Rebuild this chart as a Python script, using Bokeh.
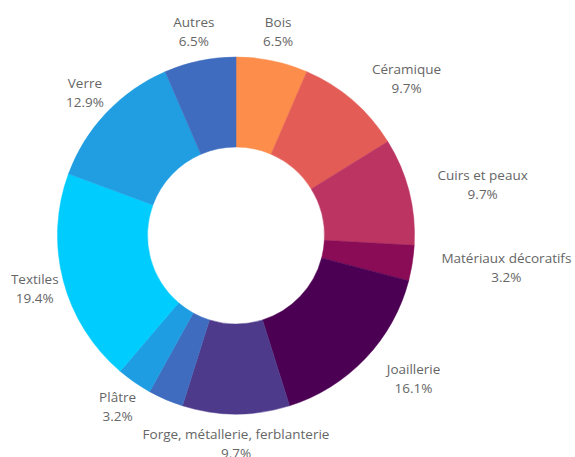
import math
from bokeh.plotting import figure
from bokeh.models import ColumnDataSource, Range1d
from bokeh.core.properties import value
from bokeh.embed import file_html
from bokeh.resources import INLINE

# Data (clockwise from 12 o'clock)
categories = ["Bois", "Céramique", "Cuirs et peaux", "Matériaux décoratifs",
              "Joaillerie", "Forge, métallerie, ferblanterie", "",
              "Plâtre", "Textiles", "Verre", "Autres"]
percents = [6.5, 9.7, 9.7, 3.2, 16.1, 9.7, 3.2, 3.2, 19.4, 12.9, 6.5]
colors = ["#fd8d4b", "#e35d56", "#bb3462", "#8a0c57", "#4c0053",
          "#4e3a8b", "#3f6cbf", "#1f9de2", "#00ccfe", "#219ee2", "#3f6cbf"]

W, H = 575, 457
cx, cy = 235.5, H - 235
r_in, r_out, r_lab = 88.5, 178.5, 208
FS = 13.5

# approximate Open Sans advance widths (em) to centre the second line
EM = {" ": .26, ".": .266, ",": .244, "%": .855, "C": .631, "M": .884,
      "J": .288, "a": .556, "â": .556, "b": .613, "c": .476, "d": .613,
      "e": .561, "é": .561, "f": .339, "g": .548, "h": .614, "i": .253,
      "j": .253, "k": .525, "l": .253, "m": .93, "n": .614, "o": .604,
      "p": .613, "q": .613, "r": .408, "s": .477, "t": .353, "u": .614,
      "v": .501, "w": .778, "x": .524, "y": .502, "z": .477}


def text_w(s):
    return sum(EM.get(ch, .572) for ch in s) * FS


total = sum(percents)
starts, ends, mids = [], [], []
cum = 0.0
for v in percents:
    f0 = cum / total
    cum += v
    f1 = cum / total
    starts.append(math.pi / 2 - 2 * math.pi * f0)
    ends.append(math.pi / 2 - 2 * math.pi * f1)
    mids.append((f0 + f1) / 2 * 360.0)

src = ColumnDataSource(dict(start=starts, end=ends, color=colors,
                            x=[cx] * len(percents), y=[cy] * len(percents)))

p = figure(width=W, height=H, output_backend="svg", toolbar_location=None,
           x_range=Range1d(0, W), y_range=Range1d(0, H), min_border=0)
p.axis.visible = False
p.grid.visible = False
p.outline_line_color = None
p.background_fill_color = "white"
p.border_fill_color = "white"

p.annular_wedge(x="x", y="y", inner_radius=r_in, outer_radius=r_out,
                start_angle="start", end_angle="end", direction="clock",
                color="color", line_color="color", line_width=0.5, source=src)

lab = dict(x=[], y1=[], y2=[], name=[], pct=[])
for name, v, m in zip(categories, percents, mids):
    if not name:
        continue
    a = math.radians(m)
    x = cx + r_lab * math.sin(a)
    y = cy + r_lab * math.cos(a)
    if 20 < m < 160:
        x += text_w(name) / 2  # block anchored at its left edge
    lab["x"].append(x)
    lab["y1"].append(y + 9.5)
    lab["y2"].append(y - 9.5)
    lab["name"].append(name)
    lab["pct"].append(f"{v:.1f}%")
lsrc = ColumnDataSource(lab)

for ycol, tcol in (("y1", "name"), ("y2", "pct")):
    p.text(x="x", y=ycol, text=tcol, source=lsrc, text_align="center",
           text_baseline="middle", text_font=value("Open Sans"),
           text_font_size=f"{FS}px", text_color="#666666")

open("out.html", "w").write(file_html(p, INLINE))
